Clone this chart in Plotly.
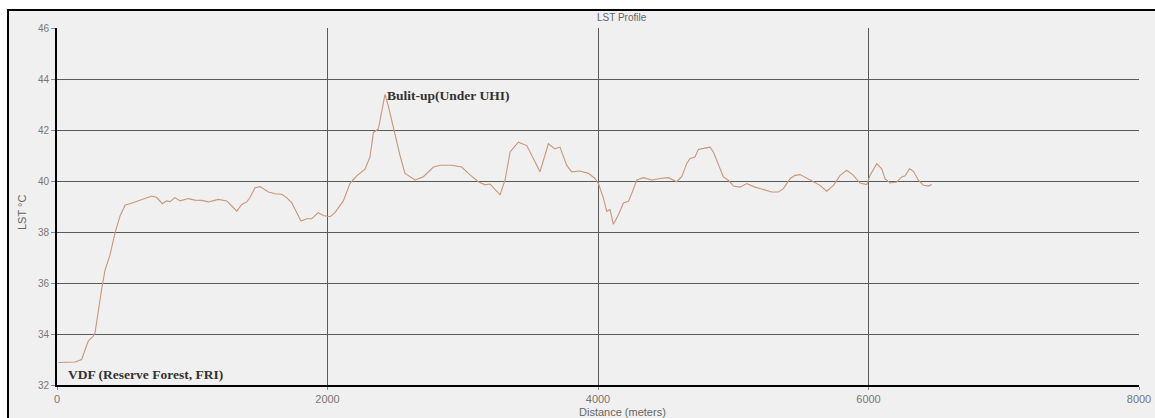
import plotly.graph_objects as go

# LST profile data (distance in meters, LST in °C)
distance = [10, 133, 182, 232, 269, 281, 330, 355, 392, 429, 466, 503, 577, 638, 700,
            737, 779, 811, 836, 872, 910, 971, 1020, 1070, 1119, 1193, 1255, 1292, 1329,
            1366, 1403, 1427, 1464, 1501, 1563, 1612, 1661, 1698, 1735, 1772, 1804, 1846,
            1883, 1932, 1969, 2019, 2055, 2117, 2166, 2216, 2277, 2314, 2339, 2376, 2425,
            2450, 2499, 2536, 2573, 2647, 2709, 2783, 2832, 2918, 2992, 3041, 3115, 3165,
            3202, 3239, 3276, 3313, 3350, 3411, 3473, 3522, 3571, 3633, 3682, 3719, 3768,
            3805, 3867, 3929, 3978, 4003, 4015, 4040, 4065, 4089, 4114, 4151, 4188, 4225,
            4250, 4287, 4336, 4397, 4459, 4520, 4582, 4619, 4656, 4680, 4717, 4742, 4791,
            4828, 4853, 4890, 4927, 4964, 5001, 5050, 5100, 5161, 5223, 5285, 5334, 5371,
            5420, 5457, 5494, 5543, 5593, 5642, 5691, 5741, 5790, 5839, 5888, 5937, 5987,
            6011, 6061, 6098, 6122, 6159, 6209, 6246, 6271, 6303, 6332, 6369, 6406, 6443,
            6468]
lst = [32.88, 32.9, 33.0, 33.73, 33.92, 34.05, 35.75, 36.5, 37.1, 37.97, 38.63, 39.05, 39.18, 39.28, 39.41,
       39.35, 39.11, 39.22, 39.19, 39.35, 39.22, 39.31, 39.25, 39.24, 39.18, 39.28, 39.22, 39.02, 38.82,
       39.08, 39.18, 39.35, 39.74, 39.78, 39.57, 39.5, 39.48, 39.35, 39.15, 38.76, 38.43, 38.52,
       38.52, 38.76, 38.65, 38.6, 38.76, 39.22, 39.9, 40.2, 40.46, 40.94, 41.9, 42.04, 43.4,
       42.94, 41.78, 41.0, 40.3, 40.04, 40.17, 40.55, 40.62, 40.62, 40.55, 40.3, 39.97, 39.85,
       39.88, 39.65, 39.46, 40.04, 41.14, 41.52, 41.39, 40.88, 40.36, 41.46, 41.26, 41.33, 40.62,
       40.36, 40.39, 40.3, 40.1, 39.9, 39.72, 39.33, 38.81, 38.88, 38.3, 38.68, 39.14, 39.2,
       39.52, 40.04, 40.13, 40.04, 40.1, 40.13, 39.97, 40.17, 40.68, 40.88, 40.94, 41.24, 41.29,
       41.33, 41.14, 40.61, 40.16, 40.03, 39.8, 39.76, 39.9, 39.76, 39.67, 39.57, 39.57, 39.7,
       40.09, 40.22, 40.25, 40.12, 39.99, 39.83, 39.6, 39.83, 40.22, 40.42, 40.22, 39.92, 39.86,
       40.22, 40.68, 40.48, 40.09, 39.92, 39.96, 40.16, 40.2, 40.48, 40.38, 40.03, 39.83, 39.8,
       39.86]

x_ticks = [0, 2000, 4000, 6000, 8000]
y_ticks = [32, 34, 36, 38, 40, 42, 44, 46]

W, H = 1155, 418
ml, mr, mt, mb = 57, 16, 28, 33
pw, ph = W - ml - mr, H - mt - mb

def px_x(p):
    return (p - ml) / pw

def px_y(p):
    return (H - mb - p) / ph

fig = go.Figure()
fig.add_trace(go.Scatter(x=distance, y=lst, mode="lines",
                         line=dict(color="#c8967a", width=1.1),
                         hoverinfo="x+y", showlegend=False))

fig.update_layout(
    width=W, height=H, autosize=False,
    margin=dict(l=ml, r=mr, t=mt, b=mb, pad=0, autoexpand=False),
    paper_bgcolor="white",
    plot_bgcolor="#f0f0f0",
    font=dict(family="Liberation Sans", size=10, color="#666"),
    xaxis=dict(range=[0, 8000], tickvals=x_ticks, ticktext=[str(v) for v in x_ticks],
               showgrid=True, gridcolor="#5a5a5a", gridwidth=1.3,
               showline=True, linecolor="black", linewidth=2,
               ticks="outside", ticklen=3, tickcolor="#888", automargin=False,
               zeroline=False, tickfont=dict(size=11, color="#777")),
    yaxis=dict(range=[32, 46], tickvals=y_ticks, ticktext=[str(v) for v in y_ticks],
               showgrid=True, gridcolor="#5a5a5a", gridwidth=1.3,
               showline=True, linecolor="black", linewidth=2,
               ticks="outside", ticklen=4, tickcolor="#888", automargin=False,
               zeroline=False, tickfont=dict(size=10, color="#777")),
    shapes=[dict(type="rect", xref="paper", yref="paper",
                 x0=px_x(8), x1=px_x(1170), y0=px_y(430), y1=px_y(10),
                 fillcolor="#f0f0f0", line=dict(color="black", width=2), layer="below")],
    annotations=[
        dict(text="LST Profile", xref="paper", yref="paper", x=px_x(622), y=px_y(17),
             xanchor="center", yanchor="middle",
             showarrow=False, font=dict(size=10, color="#666")),
        dict(text="Distance (meters)", xref="paper", yref="paper", x=px_x(622), y=px_y(412),
             xanchor="center", yanchor="middle",
             showarrow=False, font=dict(size=11, color="#666")),
        dict(text="LST °C", xref="paper", yref="paper", x=px_x(22), y=px_y(213),
             xanchor="center", yanchor="middle",
             showarrow=False, textangle=-90, font=dict(size=11, color="#666")),
        dict(text="<b>Bulit-up(Under UHI)</b>", x=2425, y=43.37, xanchor="left", yanchor="middle",
             showarrow=False, font=dict(family="Liberation Serif", size=13.5, color="#333")),
        dict(text="<b>VDF (Reserve Forest, FRI)</b>", x=px_x(66), xref="paper", y=32.42,
             xanchor="left", yanchor="middle",
             showarrow=False, font=dict(family="Liberation Serif", size=13.5, color="#333")),
    ],
)

fig.write_html("out.html", config={"displayModeBar": False},
               post_script="document.body.style.margin='0';document.body.style.overflow='hidden';")
